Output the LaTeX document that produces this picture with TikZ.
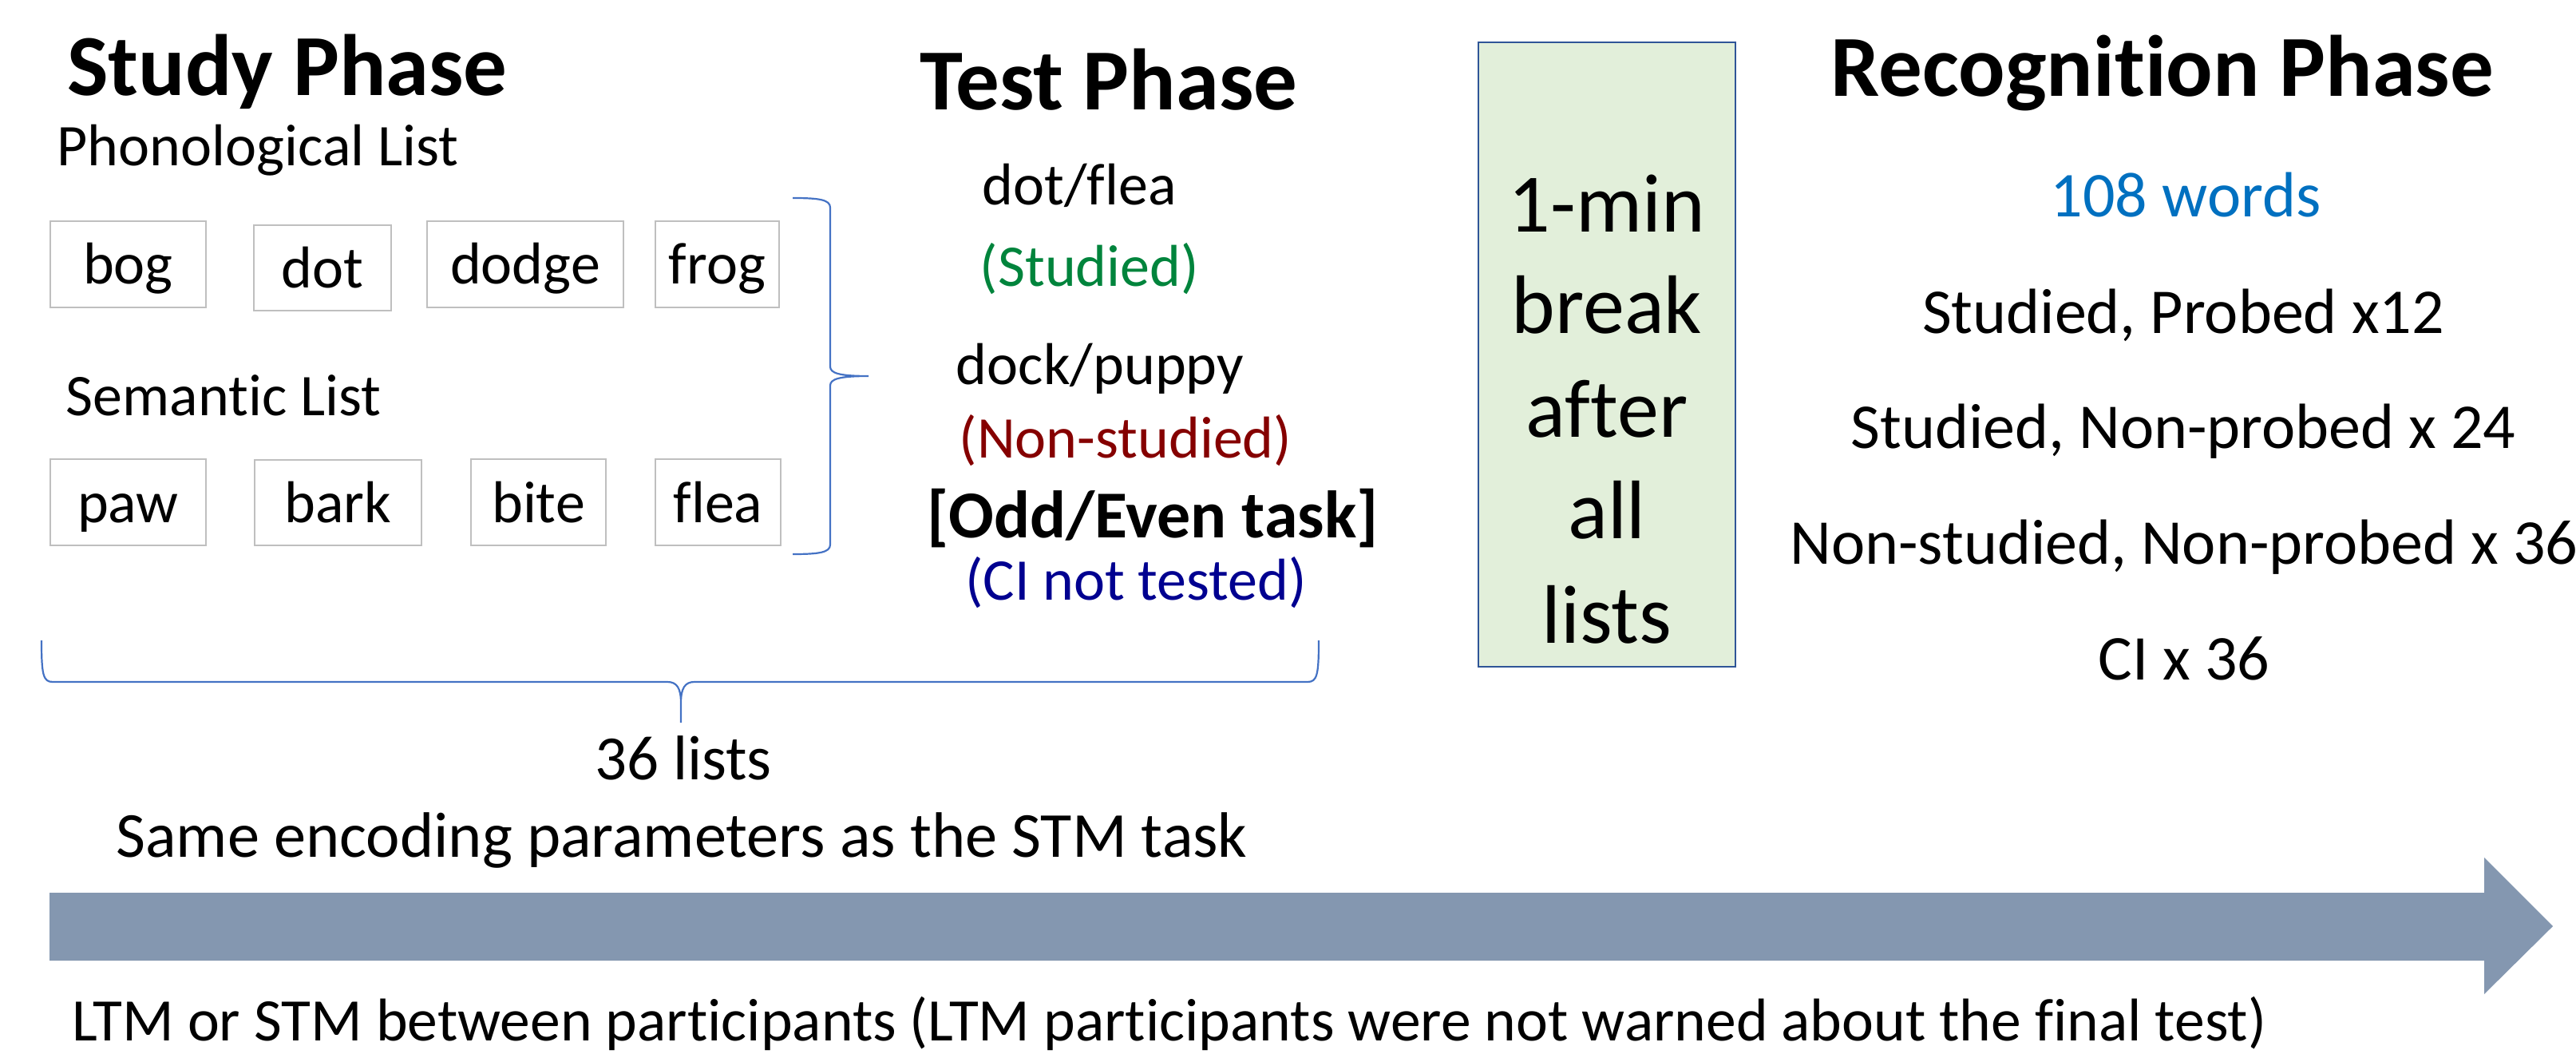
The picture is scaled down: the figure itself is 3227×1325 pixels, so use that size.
\documentclass[tikz,border=0pt]{standalone}
\usepackage{fontspec}
\setmainfont{Carlito}[Ligatures=NoCommon]
\definecolor{bracec}{HTML}{4472C4}
\definecolor{boxgray}{HTML}{BFBFBF}
\definecolor{arrowc}{HTML}{8497B0}
\definecolor{greenfill}{HTML}{E2EFDA}
\definecolor{greenedge}{HTML}{2F5597}
\definecolor{studiedc}{HTML}{00843C}
\definecolor{nonstudc}{HTML}{850000}
\definecolor{citext}{HTML}{000090}
\definecolor{wordsblue}{HTML}{0070C0}
\newcommand\tsz[1]{\fontsize{#1}{#1}\selectfont}
\begin{document}
\begin{tikzpicture}[x=0.5pt,y=-0.5pt,
  lbl/.style={inner sep=0pt,outer sep=0pt,anchor=base},
  ttl/.style={lbl,font=\tsz{54.5pt}\bfseries},
  gill/.style={lbl,font=\tsz{37pt}},
  cali/.style={lbl,font=\tsz{40pt}},
  wbox/.style={draw=boxgray,line width=1pt,inner sep=0pt,font=\tsz{37pt},
    text height=30pt,text depth=5pt,minimum height=54pt},
  brc/.style={draw=bracec,line width=1.1pt},
  brkbox/.style={draw=greenedge,fill=greenfill,line width=1pt,inner sep=0pt},
  brktext/.style={lbl,font=\tsz{52pt}},
  timeline/.style={fill=arrowc}
]
\useasboundingbox (0,0) rectangle (3227,1325);

% Study phase
\node[ttl] (study) at (360,120) {Study Phase};
\node[gill] (phon) at (323,208) {Phonological List};
\node[wbox,minimum width=97.5pt] (bog) at (160.5,331) {bog};
\node[wbox,minimum width=86pt,minimum height=53.5pt] (dot) at (404,335.5) {dot};
\node[wbox,minimum width=123pt] (dodge) at (658,331) {dodge};
\node[wbox,minimum width=77.5pt] (frog) at (898.5,331) {frog};
\node[gill] (sem) at (280,521) {Semantic List};
\node[wbox,minimum width=97.5pt] (paw) at (160.5,629) {paw};
\node[wbox,minimum width=104.5pt,minimum height=53.5pt] (bark) at (423.5,629.5) {bark};
\node[wbox,minimum width=84.5pt] (bite) at (674.5,629) {bite};
\node[wbox,minimum width=78.5pt] (flea) at (899.5,629) {flea};

% right brace
\draw[brc] (993,248) .. controls (1026,248) and (1040,250) .. (1040,260)
  -- (1040,459) .. controls (1040,467) and (1050,471) .. (1088,471)
  .. controls (1050,471) and (1040,475) .. (1040,483)
  -- (1040,682) .. controls (1040,692) and (1026,694) .. (993,694);

% Test phase
\node[ttl] (test) at (1389,138) {Test Phase};
\node[gill] (dotflea) at (1352,257) {dot/flea};
\node[gill,text=studiedc] (studied) at (1365,359) {(Studied)};
\node[gill] (dockpuppy) at (1378,482) {dock/puppy};
\node[gill,text=nonstudc] (nonstud) at (1410,574) {(Non-studied)};
\node[lbl,font=\tsz{42pt}\bfseries] (oddeven) at (1444,674) {[Odd/Even task]};
\node[gill,text=citext] (cinot) at (1423,751) {(CI not tested)};

% bottom brace
\draw[brc] (52,802) .. controls (52,845) and (54,854) .. (66,854)
  -- (836,854) .. controls (848,854) and (853,862) .. (853,880) -- (853,905)
  (853,880) .. controls (853,862) and (858,854) .. (870,854)
  -- (1638,854) .. controls (1650,854) and (1652,845) .. (1652,802);
\node[cali,font=\tsz{39.5pt}] (lists) at (856,976) {36 lists};
\node[cali,font=\tsz{40.2pt}] (same) at (854,1073) {Same encoding parameters as the STM task};

% break box
\node[brkbox,minimum width=161pt,minimum height=391pt] (brk) at (2013,444) {};
\node[brktext] (brk1) at (2013,291) {1-min};
\node[brktext] (brk2) at (2013,418) {break};
\node[brktext] (brk3) at (2013,548) {after};
\node[brktext] (brk4) at (2013,675) {all};
\node[brktext] (brk5) at (2013,805) {lists};

% Recognition phase
\node[ttl] (recog) at (2709,121) {Recognition Phase};
\node[cali,text=wordsblue] (words) at (2738,272) {108 words};
\node[cali] (r1) at (2735,418) {Studied, Probed x12};
\node[cali] (r2) at (2735,562) {Studied, Non-probed x 24};
\node[cali] (r3) at (2736,706) {Non-studied, Non-probed x 36};
\node[cali] (r4) at (2736,851) {CI x 36};

% timeline arrow
\fill[timeline] (62,1118) -- (3112,1118) -- (3112,1074) -- (3198,1160)
  -- (3112,1245) -- (3112,1203) -- (62,1203) -- cycle;
\node[lbl,font=\tsz{37.8pt}] (ltm) at (1465,1303) {LTM or STM between participants (LTM participants were not warned about the final test)};
\end{tikzpicture}
\end{document}
